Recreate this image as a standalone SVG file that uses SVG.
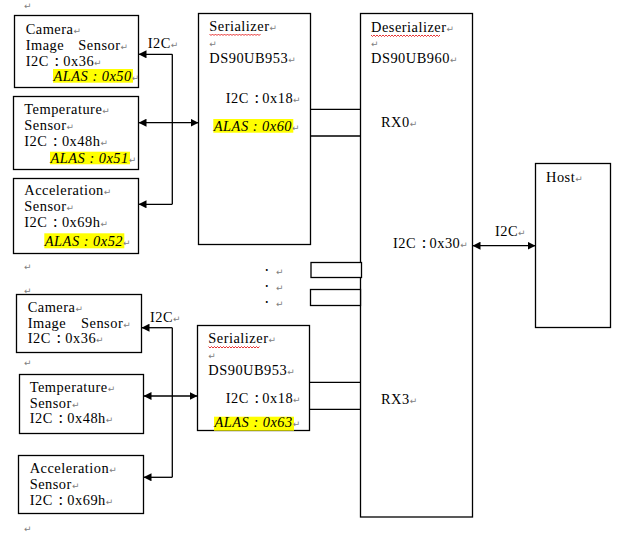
<svg xmlns="http://www.w3.org/2000/svg" width="628" height="553" viewBox="0 0 628 553">
<style>
.box{fill:#fff;stroke:#000;stroke-width:1.3}
.t{font-family:"Liberation Serif",serif;font-size:14.4px;letter-spacing:0.5px;fill:#000}
.cj{font-family:"Noto Sans CJK JP",sans-serif;font-size:10.5px;font-weight:bold;letter-spacing:0}
.la{font-family:"Liberation Serif",serif}
.i{font-family:"Liberation Serif",serif;font-style:italic}
.hl{fill:#ffff00}
.pm{font-family:"DejaVu Sans",sans-serif;font-size:9px;letter-spacing:0;fill:#808080;font-style:normal}
.dot{font-family:"Noto Sans CJK JP",sans-serif;font-size:9px;fill:#000}
.ln{stroke:#000;stroke-width:1.3;fill:none}
.wavy{stroke:#e00000;stroke-width:0.8;fill:none}
</style>
<defs>
<marker id="ah" viewBox="0 0 10 10" refX="10" refY="5" markerWidth="8" markerHeight="8" markerUnits="userSpaceOnUse" orient="auto-start-reverse">
<path d="M0,0 L10,5 L0,10 z" fill="#000"/>
</marker>
</defs>
<rect width="628" height="553" fill="#fff"/>

<g id="margin-marks">
<text class="pm" x="24" y="9">↵</text>
<text class="pm" x="24" y="270">↵</text>
<text class="pm" x="24" y="294">↵</text>
<text class="pm" x="24" y="366">↵</text>
<text class="pm" x="24" y="532">↵</text>
</g>

<g id="camera1">
<rect class="box" x="14.5" y="15.5" width="124" height="72"/>
<text class="t" x="25.7" y="34">Camera<tspan class="pm">↵</tspan></text>
<text class="t" x="25.7" y="50">Image<tspan x="78.3">Sensor</tspan><tspan class="pm">↵</tspan></text>
<text class="t" x="25.7" y="65.5">I2C<tspan class="cj" x="51.5">：</tspan><tspan class="la" x="63.3">0x36</tspan><tspan class="pm">↵</tspan></text>
<rect class="hl" x="53" y="69" width="80" height="13.7"/>
<text class="t i" x="53.5" y="80.5">ALAS : 0x50<tspan class="pm">↵</tspan></text>
</g>

<g id="temp1">
<rect class="box" x="13.5" y="96.5" width="125" height="73"/>
<text class="t" x="24.3" y="114.3">Temperature<tspan class="pm">↵</tspan></text>
<text class="t" x="24.3" y="130">Sensor<tspan class="pm">↵</tspan></text>
<text class="t" x="24.3" y="145.7">I2C<tspan class="cj" x="50.1">：</tspan><tspan class="la" x="61.9">0x48h</tspan><tspan class="pm">↵</tspan></text>
<rect class="hl" x="50" y="151.7" width="80" height="12.6"/>
<text class="t i" x="50.5" y="162.5">ALAS : 0x51<tspan class="pm">↵</tspan></text>
</g>

<g id="accel1">
<rect class="box" x="13.5" y="178.5" width="125" height="75"/>
<text class="t" x="24.3" y="195">Acceleration<tspan class="pm">↵</tspan></text>
<text class="t" x="24.3" y="211">Sensor<tspan class="pm">↵</tspan></text>
<text class="t" x="24.3" y="226.7">I2C<tspan class="cj" x="50.1">：</tspan><tspan class="la" x="61.9">0x69h</tspan><tspan class="pm">↵</tspan></text>
<rect class="hl" x="44.3" y="233.3" width="80" height="15"/>
<text class="t i" x="44.8" y="246">ALAS : 0x52<tspan class="pm">↵</tspan></text>
</g>

<g id="serializer1">
<rect class="box" x="198.5" y="13.5" width="112" height="231"/>
<text class="t" x="209.3" y="30.7">Serializer<tspan class="pm">↵</tspan></text>
<path class="wavy" d="M209.5,34 l1.5,1.5 l1.5,-1.5 l1.5,1.5 l1.5,-1.5 l1.5,1.5 l1.5,-1.5 l1.5,1.5 l1.5,-1.5 l1.5,1.5 l1.5,-1.5 l1.5,1.5 l1.5,-1.5 l1.5,1.5 l1.5,-1.5 l1.5,1.5 l1.5,-1.5 l1.5,1.5 l1.5,-1.5 l1.5,1.5 l1.5,-1.5 l1.5,1.5 l1.5,-1.5 l1.5,1.5 l1.5,-1.5 l1.5,1.5 l1.5,-1.5 l1.5,1.5 l1.5,-1.5 l1.5,1.5 l1.5,-1.5 l1.5,1.5 l1.5,-1.5 l1.5,1.5 l1.5,-1.5"/>
<text class="pm" x="209.3" y="47">↵</text>
<text class="t" x="209.3" y="63.3">DS90UB953<tspan class="pm">↵</tspan></text>
<text class="t" x="225.7" y="103.3">I2C<tspan class="cj" x="251.5">：</tspan><tspan class="la" x="262.3">0x18</tspan><tspan class="pm">↵</tspan></text>
<rect class="hl" x="213.3" y="119" width="80" height="13.7"/>
<text class="t i" x="213.8" y="130.5">ALAS : 0x60<tspan class="pm">↵</tspan></text>
</g>

<g id="deserializer">
<rect class="box" x="360.5" y="13.5" width="112" height="503.5"/>
<text class="t" x="371" y="31.7">Deserializer<tspan class="pm">↵</tspan></text>
<path class="wavy" d="M371,35 l1.5,1.5 l1.5,-1.5 l1.5,1.5 l1.5,-1.5 l1.5,1.5 l1.5,-1.5 l1.5,1.5 l1.5,-1.5 l1.5,1.5 l1.5,-1.5 l1.5,1.5 l1.5,-1.5 l1.5,1.5 l1.5,-1.5 l1.5,1.5 l1.5,-1.5 l1.5,1.5 l1.5,-1.5 l1.5,1.5 l1.5,-1.5 l1.5,1.5 l1.5,-1.5 l1.5,1.5 l1.5,-1.5 l1.5,1.5 l1.5,-1.5 l1.5,1.5 l1.5,-1.5 l1.5,1.5 l1.5,-1.5 l1.5,1.5 l1.5,-1.5 l1.5,1.5 l1.5,-1.5 l1.5,1.5 l1.5,-1.5 l1.5,1.5 l1.5,-1.5 l1.5,1.5 l1.5,-1.5 l1.5,1.5 l1.5,-1.5 l1.5,1.5 l1.5,-1.5 l1.5,1.5 l1.5,-1.5"/>
<text class="pm" x="371" y="47">↵</text>
<text class="t" x="371" y="63.3">DS90UB960<tspan class="pm">↵</tspan></text>
<text class="t" x="381" y="127.3">RX0<tspan class="pm">↵</tspan></text>
<text class="t" x="393" y="248.3">I2C<tspan class="cj" x="418.8">：</tspan><tspan class="la" x="429.5">0x30</tspan><tspan class="pm">↵</tspan></text>
<text class="t" x="381" y="404">RX3<tspan class="pm">↵</tspan></text>
</g>

<g id="host">
<rect class="box" x="535.5" y="163.5" width="75" height="164"/>
<text class="t" x="546" y="181.7">Host<tspan class="pm">↵</tspan></text>
</g>

<g id="other-channels">
<rect class="box" x="311" y="262.5" width="50.5" height="15"/>
<rect class="box" x="310.5" y="289.5" width="50" height="16"/>
<text class="dot" x="262.2" y="273.3">・<tspan class="pm" x="276" y="275">↵</tspan></text>
<text class="dot" x="262.2" y="289">・<tspan class="pm" x="276" y="291">↵</tspan></text>
<text class="dot" x="262.2" y="305">・<tspan class="pm" x="276" y="307">↵</tspan></text>
</g>

<g id="camera2">
<rect class="box" x="16.5" y="294.5" width="125" height="58"/>
<text class="t" x="27.7" y="311.7">Camera<tspan class="pm">↵</tspan></text>
<text class="t" x="27.7" y="327.7">Image<tspan x="81">Sensor</tspan><tspan class="pm">↵</tspan></text>
<text class="t" x="27.7" y="343.3">I2C<tspan class="cj" x="53.5">：</tspan><tspan class="la" x="65.3">0x36</tspan><tspan class="pm">↵</tspan></text>
</g>

<g id="temp2">
<rect class="box" x="19.5" y="374.5" width="124" height="59"/>
<text class="t" x="29.7" y="391.7">Temperature<tspan class="pm">↵</tspan></text>
<text class="t" x="29.7" y="407.7">Sensor<tspan class="pm">↵</tspan></text>
<text class="t" x="29.7" y="423.3">I2C<tspan class="cj" x="55.5">：</tspan><tspan class="la" x="67.3">0x48h</tspan><tspan class="pm">↵</tspan></text>
</g>

<g id="accel2">
<rect class="box" x="18.5" y="455.5" width="125" height="58"/>
<text class="t" x="29.7" y="473.3">Acceleration<tspan class="pm">↵</tspan></text>
<text class="t" x="29.7" y="489.3">Sensor<tspan class="pm">↵</tspan></text>
<text class="t" x="29.7" y="505">I2C<tspan class="cj" x="55.5">：</tspan><tspan class="la" x="67.3">0x69h</tspan><tspan class="pm">↵</tspan></text>
</g>

<g id="serializer2">
<rect class="box" x="197.5" y="325.5" width="112" height="105"/>
<text class="t" x="208.3" y="343.3">Serializer<tspan class="pm">↵</tspan></text>
<path class="wavy" d="M208.5,346.5 l1.5,1.5 l1.5,-1.5 l1.5,1.5 l1.5,-1.5 l1.5,1.5 l1.5,-1.5 l1.5,1.5 l1.5,-1.5 l1.5,1.5 l1.5,-1.5 l1.5,1.5 l1.5,-1.5 l1.5,1.5 l1.5,-1.5 l1.5,1.5 l1.5,-1.5 l1.5,1.5 l1.5,-1.5 l1.5,1.5 l1.5,-1.5 l1.5,1.5 l1.5,-1.5 l1.5,1.5 l1.5,-1.5 l1.5,1.5 l1.5,-1.5 l1.5,1.5 l1.5,-1.5 l1.5,1.5 l1.5,-1.5 l1.5,1.5 l1.5,-1.5 l1.5,1.5 l1.5,-1.5"/>
<text class="pm" x="208.3" y="359">↵</text>
<text class="t" x="208.3" y="375">DS90UB953<tspan class="pm">↵</tspan></text>
<text class="t" x="225.7" y="402.7">I2C<tspan class="cj" x="251.5">：</tspan><tspan class="la" x="262.3">0x18</tspan><tspan class="pm">↵</tspan></text>
<rect class="hl" x="214" y="416.7" width="80" height="14"/>
<text class="t i" x="214.5" y="426.7">ALAS : 0x63<tspan class="pm">↵</tspan></text>
</g>

<g id="connectors">
<path class="ln" d="M172.3,54.3 V204.3"/>
<path class="ln" d="M172.3,54.3 H138.5" marker-end="url(#ah)"/>
<path class="ln" d="M172.3,204.3 H138.5" marker-end="url(#ah)"/>
<path class="ln" d="M138.5,122.7 H198.5" marker-start="url(#ah)" marker-end="url(#ah)"/>
<text class="t" x="147.7" y="48.3">I2C<tspan class="pm">↵</tspan></text>
<path class="ln" d="M172.3,327.7 V477.3"/>
<path class="ln" d="M172.3,327.7 H141.5" marker-end="url(#ah)"/>
<path class="ln" d="M172.3,477.3 H143.5" marker-end="url(#ah)"/>
<path class="ln" d="M143.5,396 H197.5" marker-start="url(#ah)" marker-end="url(#ah)"/>
<text class="t" x="150" y="322.3">I2C<tspan class="pm">↵</tspan></text>
<path class="ln" d="M310.5,109.3 H360.5 M310.5,136 H360.5"/>
<path class="ln" d="M309.5,382.3 H360.5 M309.5,409.3 H360.5"/>
<path class="ln" d="M472.5,245.7 H535.5" marker-start="url(#ah)" marker-end="url(#ah)"/>
<text class="t" x="495" y="235.7">I2C<tspan class="pm">↵</tspan></text>
</g>
</svg>
